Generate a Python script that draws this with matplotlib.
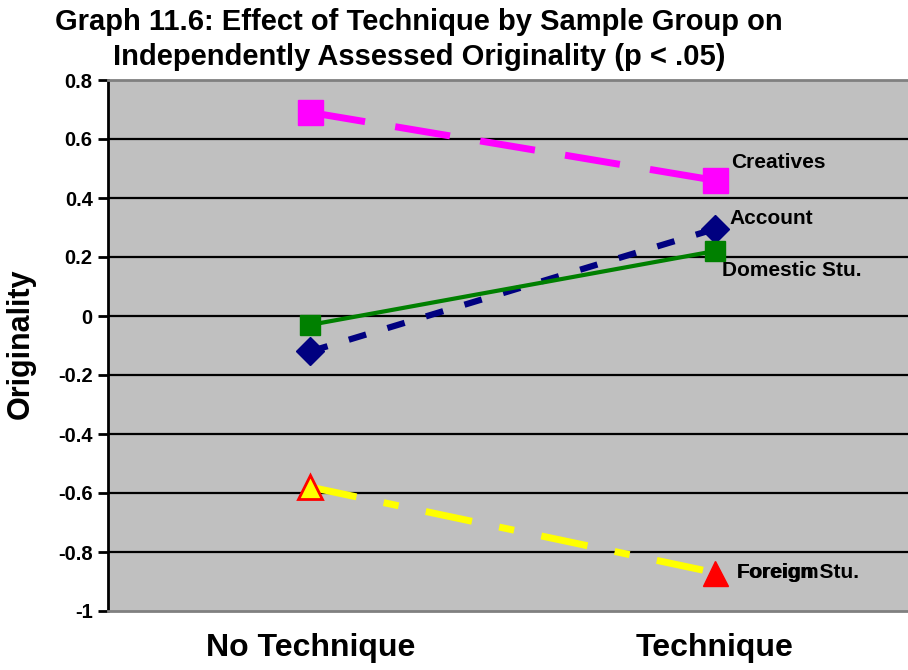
import matplotlib
matplotlib.use("Agg")
import matplotlib.pyplot as plt

plt.rcParams["font.family"] = ["Liberation Sans", "DejaVu Sans"]
plt.rcParams["font.weight"] = "bold"
plt.rcParams["lines.scale_dashes"] = False

conditions = ["No Technique", "Technique"]
creatives = [0.69, 0.46]
account = [-0.12, 0.295]
domestic = [-0.03, 0.22]
foreign = [-0.58, -0.87]
yticks = [0.8, 0.6, 0.4, 0.2, 0, -0.2, -0.4, -0.6, -0.8, -1]
ytick_labels = ["0.8", "0.6", "0.4", "0.2", "0", "-0.2", "-0.4", "-0.6", "-0.8", "-1"]

xs = [0.5, 1.5]

fig = plt.figure(figsize=(9.08, 6.70), dpi=100)
ax = fig.add_axes([108 / 908, 1 - 611 / 670, 1 - 108 / 908 + 0.01, (611 - 80) / 670])
ax.set_facecolor("#C0C0C0")
ax.set_xlim(0, 2)
ax.set_ylim(-1, 0.8)

for y in yticks[1:-1]:
    ax.axhline(y, color="black", lw=1.6, zorder=1)

# series lines
ax.plot(xs, creatives, color="#FF00FF", lw=5, dashes=(40, 22), zorder=3,
        dash_capstyle="butt")
ax.plot(xs, account, color="#000080", lw=4.5, dashes=(13, 16), zorder=3,
        dash_capstyle="butt")
ax.plot(xs, domestic, color="#008000", lw=3, zorder=3)
ax.plot(xs, foreign, color="#FFFF00", lw=5, dashes=(34, 20, 11, 20), zorder=3,
        dash_capstyle="butt")

# markers
ax.plot(xs, creatives, ls="none", marker="s", ms=18, color="#FF00FF", zorder=4)
ax.plot(xs, account, ls="none", marker="D", ms=14, color="#000080", zorder=4)
ax.plot(xs, domestic, ls="none", marker="s", ms=14, color="#008000", zorder=5)
ax.plot(xs[0], foreign[0], ls="none", marker="^", ms=17, mfc="#FFFF00",
        mec="#FF0000", mew=2, zorder=4)
ax.plot(xs[1], foreign[1], ls="none", marker="^", ms=18, color="#FF0000", zorder=4)

# series labels
lab = dict(fontsize=15, fontweight="bold", va="center", ha="left", zorder=6)
ax.text(1.54, 0.52, "Creatives", **lab)
ax.text(1.537, 0.33, "Account", **lab)
ax.text(1.517, 0.155, "Domestic Stu.", **lab)
ax.text(1.554, -0.87, "Foreign Stu.", **lab)
ax.text(1.554, -0.87, "Foreigm", **lab)

ax.set_xticks(xs)
ax.set_xticklabels(conditions, fontsize=23, fontweight="bold")
ax.tick_params(axis="x", length=0, pad=16)
ax.set_yticks(yticks)
ax.set_yticklabels(ytick_labels, fontsize=14.5, fontweight="bold")
ax.tick_params(axis="y", direction="out", length=7, width=2, pad=4)
ax.set_ylabel("Originality", fontsize=22, fontweight="bold")
ax.yaxis.set_label_coords(-0.089, 0.503)

ax.spines["left"].set_linewidth(2)
ax.spines["left"].set_color("black")
for s in ["top", "bottom"]:
    ax.spines[s].set_color("#808080")
    ax.spines[s].set_linewidth(2)
ax.spines["right"].set_visible(False)

fig.text(419 / 908, 1 - 22 / 670, "Graph 11.6: Effect of Technique by Sample Group on",
         ha="center", va="center", fontsize=21, fontweight="bold")
fig.text(419 / 908, 1 - 57 / 670, "Independently Assessed Originality (p < .05)",
         ha="center", va="center", fontsize=21, fontweight="bold")

fig.savefig("out.png", dpi=100)
